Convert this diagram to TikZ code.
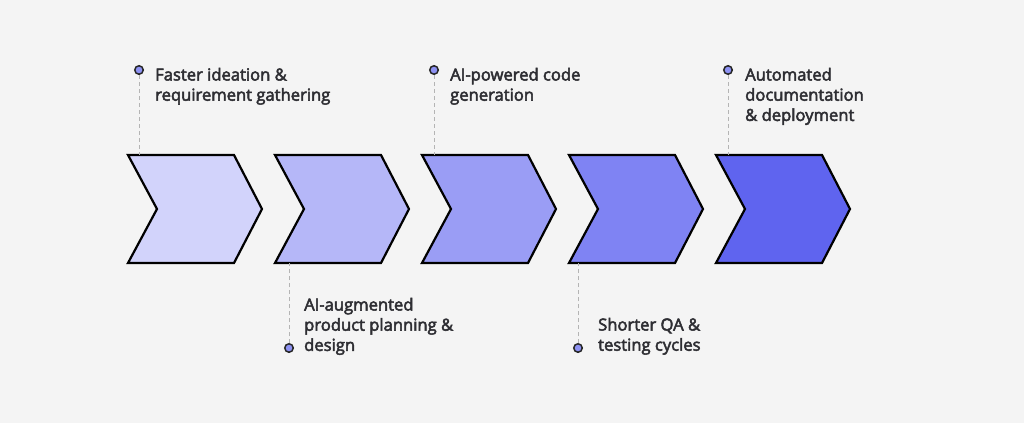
\documentclass[tikz,border=0pt]{standalone}
\usepackage{fontspec}
\newfontfamily\lblfont{Open Sans}[FakeBold=3]
\definecolor{bg}{HTML}{F4F4F4}
\definecolor{txt}{HTML}{2E2E33}
\definecolor{cA}{HTML}{D2D3FB}
\definecolor{cB}{HTML}{B5B7F8}
\definecolor{cC}{HTML}{9A9DF5}
\definecolor{cD}{HTML}{7F83F3}
\definecolor{cE}{HTML}{5F64EF}
\definecolor{dotc}{HTML}{8E92F3}
\definecolor{dash}{HTML}{B4B4B4}
\tikzset{
  chev/.style={draw=black, line width=2.2pt, line join=miter},
  lbl/.style={anchor=base west, inner sep=0pt, text=txt,
    font=\lblfont\fontsize{16.6}{20.2}\selectfont},
  dotn/.style={circle, draw=black!85, fill=dotc, line width=1.5pt, minimum size=8.5pt, inner sep=0pt},
  lead/.style={draw=dash, line width=1pt, dash pattern=on 4pt off 3pt}
}
\newcommand{\lines}[1]{\begin{tabular}[t]{@{}l@{}}#1\end{tabular}}
\begin{document}
\begin{tikzpicture}[x=1pt,y=-1pt]
\fill[bg] (0,0) rectangle (1024,423);
\useasboundingbox (0,0) rectangle (1024,423);
% chevrons
\foreach \i/\c in {0/cA,1/cB,2/cC,3/cD,4/cE}{
  \pgfmathsetmacro{\xo}{128+147*\i}
  \draw[chev, fill=\c] (\xo,155) -- (\xo+106,155) -- (\xo+134,209) -- (\xo+106,263) -- (\xo,263) -- (\xo+29,209) -- cycle;
}
\coordinate (t1) at (139,155);
\coordinate (t2) at (289,263);
\coordinate (t3) at (434,155);
\coordinate (t4) at (578,263);
\coordinate (t5) at (728,155);
% dots
\node[dotn] (d1) at (139,70) {};
\node[dotn] (d2) at (289,348) {};
\node[dotn] (d3) at (434,70) {};
\node[dotn] (d4) at (578,348) {};
\node[dotn] (d5) at (728,70) {};
\draw[lead] (d1) -- (t1);
\draw[lead] (d2) -- (t2);
\draw[lead] (d3) -- (t3);
\draw[lead] (d4) -- (t4);
\draw[lead] (d5) -- (t5);
% labels
\node[lbl] (l1) at (155,80.5) {\lines{Faster ideation \&\\requirement gathering}};
\node[lbl] (l2) at (304,310.5) {\lines{AI-augmented\\product planning \&\\design}};
\node[lbl] (l3) at (450,80.5) {\lines{AI-powered code\\generation}};
\node[lbl] (l4) at (598,330.5) {\lines{Shorter QA \&\\testing cycles}};
\node[lbl] (l5) at (745,80.5) {\lines{Automated\\documentation\\\& deployment}};
\end{tikzpicture}
\end{document}
